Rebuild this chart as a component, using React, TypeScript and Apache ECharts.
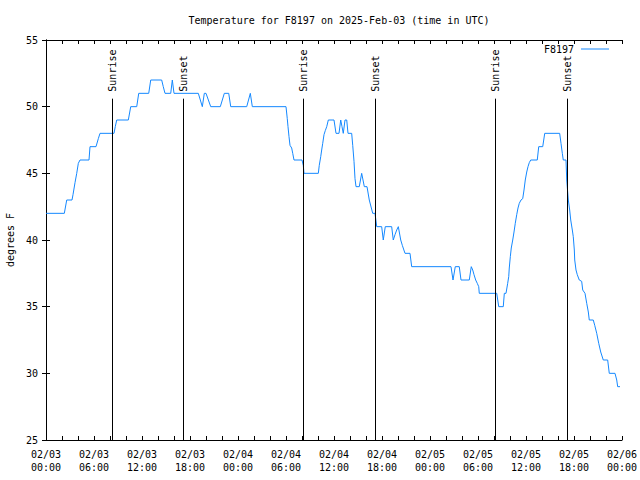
import React, { useEffect, useRef } from "react";
import * as echarts from "echarts";

// Hours since 2025-02-03 00:00 UTC
const hours: number[] = [
  0, 2.29, 2.59, 3.25, 3.375, 3.625, 3.84, 4.04, 4.25, 5.375, 5.5, 6.25, 6.54, 6.75,
  8.5, 8.66, 8.84, 10.29, 10.59, 11.34, 11.59, 12.84, 13.09, 14.46, 14.66, 14.875,
  15.59, 15.79, 16.0, 19.04, 19.54, 19.79, 20.0, 20.59, 21.79, 22.29, 22.84, 23.09,
  25.09, 25.54, 25.79, 30.0, 30.16, 30.25, 30.375, 30.5, 30.71, 30.84, 31.0, 32.0,
  32.16, 32.25, 34.04, 34.16, 34.34, 34.46, 34.59, 34.75, 34.91, 35.09, 35.29, 36.0,
  36.25, 36.625, 36.84, 37.0, 37.16, 37.375, 37.59, 37.75, 38.21, 38.34, 38.5, 38.625,
  38.75, 39.16, 39.46, 39.79, 40.125, 40.41, 40.84, 41.125, 41.34, 41.96, 42.16, 42.41,
  43.21, 43.41, 43.625, 43.84, 44.04, 44.34, 44.54, 44.875, 45.5, 45.71, 50.625, 50.875,
  51.16, 51.66, 51.875, 52.91, 53.16, 53.34, 53.5, 53.71, 53.91, 54.09, 54.16, 56.34,
  56.59, 57.16, 57.29, 57.5, 57.71, 57.84, 57.91, 58.04, 58.16, 58.34, 58.5, 58.66,
  58.84, 59.0, 59.16, 59.375, 59.59, 59.75, 59.91, 60.09, 60.25, 60.41, 60.59, 61.41,
  61.59, 62.09, 62.34, 64.21, 64.375, 64.54, 64.66, 65.0, 65.09, 65.21, 65.29, 65.46,
  65.59, 65.79, 65.91, 66.04, 66.09, 66.25, 66.41, 66.66, 66.96, 67.09, 67.375, 67.59,
  67.79, 67.91, 68.41, 68.59, 68.84, 69.09, 69.34, 69.66, 70.21, 70.41, 71.125, 71.34,
  71.46, 71.75,
];

// Temperature, degrees F
const temps: number[] = [
  42, 42, 43, 43, 43.4, 44.3, 45, 45.75, 46, 46, 47, 47, 47.6, 48,
  48, 48.5, 49, 49, 50, 50, 51, 51, 52, 52, 51.5, 51,
  51, 52, 51, 51, 50, 51, 51, 50, 50, 51, 51, 50,
  50, 51, 50, 50, 49.1, 48.5, 47.75, 47.1, 46.9, 46.5, 46, 46,
  45.6, 45, 45, 45.6, 46.25, 46.75, 47.25, 47.9, 48.2, 48.5, 49, 49,
  48, 48, 49, 48.5, 48, 49, 49, 48, 48, 47.1, 45.9, 44.6,
  44, 44, 45, 44, 44, 43, 42, 42, 41, 41, 40, 41,
  41, 40, 40.4, 40.75, 41, 40, 39.6, 39, 39, 38, 38, 37,
  38, 38, 37, 37, 38, 37.75, 37.4, 37, 36.75, 36.5, 36, 36,
  35, 35, 36, 36, 36.75, 37.25, 37.9, 38.75, 39.4, 40, 40.6, 41.25,
  41.9, 42.4, 42.75, 43, 43.1, 43.75, 44.5, 45.1, 45.5, 45.8, 46, 46,
  47, 47, 48, 48, 47.25, 46.5, 46, 46, 44.5, 43.6, 43, 42.25,
  41.5, 40.75, 40.25, 39.25, 38.5, 37.75, 37.4, 37, 36.9, 36.25, 36, 35.25,
  34.6, 34, 34, 33.6, 33, 32.25, 31.6, 31, 31, 30, 30, 29.5,
  29, 29,
];

const sunTimes: number[] = [8.2, 17.15, 32.17, 41.17, 56.15, 65.13];
const sunLabels: string[] = ["Sunrise", "Sunset", "Sunrise", "Sunset", "Sunrise", "Sunset"];

const xTickLabels: string[] = [
  "02/03\n00:00", "02/03\n06:00", "02/03\n12:00", "02/03\n18:00",
  "02/04\n00:00", "02/04\n06:00", "02/04\n12:00", "02/04\n18:00",
  "02/05\n00:00", "02/05\n06:00", "02/05\n12:00", "02/05\n18:00",
  "02/06\n00:00",
];

const FONT = '"DejaVu Sans Mono", "Liberation Mono", monospace';
const LINE_COLOR = "#1488ff";

export default function App() {
  const ref = useRef<HTMLDivElement>(null);

  useEffect(() => {
    if (!ref.current) return;
    const chart = echarts.init(ref.current, undefined, { renderer: "svg" });

    const lineData = hours.map((h, i) => [h, temps[i]]);
    const sunData = sunTimes.map((t) => [t, 25]);

    const xCommon = {
      type: "value" as const,
      min: 0,
      max: 72,
      interval: 6,
      splitLine: { show: false },
      axisLine: { show: true, lineStyle: { color: "#000", width: 1 } },
      axisTick: { show: true, inside: true, length: 4, lineStyle: { color: "#000" } },
      minorTick: { show: true, splitNumber: 3, length: 4, lineStyle: { color: "#000" } },
    };
    const yCommon = {
      type: "value" as const,
      min: 25,
      max: 55,
      interval: 5,
      splitLine: { show: false },
      axisLine: { show: true, lineStyle: { color: "#000", width: 1 } },
      axisTick: { show: true, inside: true, length: 4, lineStyle: { color: "#000" } },
    };

    chart.setOption({
      animation: false,
      backgroundColor: "#fff",
      title: {
        text: "Temperature for F8197 on 2025-Feb-03 (time in UTC)",
        left: 334,
        top: 10,
        textAlign: "center",
        textStyle: { fontFamily: FONT, fontSize: 10, fontWeight: "normal", color: "#000" },
      },
      legend: {
        data: ["F8197"],
        right: 26,
        top: 39,
        align: "right",
        icon: "rect",
        itemWidth: 28,
        itemHeight: 1,
        itemGap: 6,
        textStyle: { fontFamily: FONT, fontSize: 10, color: "#000", padding: [0, 2, 0, 0] },
      },
      grid: {
        left: 46,
        right: 18,
        top: 40,
        bottom: 40,
        containLabel: false,
        outerBoundsMode: "none",
      },
      xAxis: [
        {
          ...xCommon,
          position: "bottom",
          axisLabel: {
            fontFamily: FONT,
            fontSize: 10,
            color: "#000",
            margin: 8,
            lineHeight: 13,
            formatter: (v: number) => xTickLabels[Math.round(v / 6)] ?? "",
          },
        },
        {
          ...xCommon,
          position: "top",
          axisLabel: { show: false },
        },
      ],
      yAxis: [
        {
          ...yCommon,
          position: "left",
          name: "degrees F",
          nameLocation: "middle",
          nameGap: 31,
          nameTextStyle: { fontFamily: FONT, fontSize: 10, color: "#000" },
          axisLabel: { fontFamily: FONT, fontSize: 10, color: "#000", margin: 8 },
        },
        {
          ...yCommon,
          position: "right",
          axisLabel: { show: false },
        },
      ],
      series: [
        {
          name: "F8197",
          type: "line",
          xAxisIndex: 0,
          yAxisIndex: 0,
          data: lineData,
          symbol: "none",
          showSymbol: false,
          lineStyle: { color: LINE_COLOR, width: 1 },
          itemStyle: { color: LINE_COLOR },
          z: 3,
        },
        {
          name: "sun",
          type: "custom",
          xAxisIndex: 0,
          yAxisIndex: 0,
          data: sunData,
          z: 4,
          renderItem: (params: any, api: any) => {
            const t = api.value(0);
            const bottom = api.coord([t, 25]);
            const top = api.coord([t, 50.6]);
            const x = Math.round(bottom[0]) + 0.5;
            return {
              type: "group",
              children: [
                {
                  type: "line",
                  shape: { x1: x, y1: bottom[1], x2: x, y2: top[1] },
                  style: { stroke: "#000", lineWidth: 1 },
                },
                {
                  type: "text",
                  x: x,
                  y: top[1] - 7,
                  rotation: Math.PI / 2,
                  style: {
                    text: sunLabels[params.dataIndex],
                    textAlign: "left",
                    textVerticalAlign: "middle",
                    font: `10px ${FONT}`,
                    fill: "#000",
                  },
                },
              ],
            };
          },
        },
      ],
    });

    return () => chart.dispose();
  }, []);

  return (
    <div
      ref={ref}
      style={{ position: "absolute", left: 0, top: 0, width: 640, height: 480 }}
    />
  );
}
